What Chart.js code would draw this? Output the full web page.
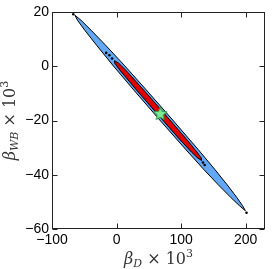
<!DOCTYPE html>
<html>
<head>
<meta charset="utf-8">
<script src="https://cdn.jsdelivr.net/npm/chart.js@4/dist/chart.umd.min.js"></script>
<style>
  html, body { margin: 0; padding: 0; background: #fff; }
  #wrap { width: 273px; height: 269px; }
</style>
</head>
<body>
<div id="wrap"><canvas id="chart"></canvas></div>
<script>
// tick values
const xTicks = [-100, 0, 100, 200];
const yTicks = [-60, -40, -20, 0, 20];

// outer (2 sigma) contour
const outerX = [-64.5, -55.0, -39.4, -17.0, 11.8, 46.3, 87.0, 127.0, 152.8, 171.4, 186.7, 195.3, 199.6,
                190.5, 177.5, 157.7, 135.7, 107.8, 66.9, 26.8, -5.9, -31.0, -49.2, -60.5];
const outerY = [18.8, 16.95, 13.27, 7.76, 0.40, -8.79, -19.82, -30.85, -38.2, -43.71, -48.49, -51.43, -53.27,
                -51.43, -48.49, -43.71, -38.2, -30.85, -19.82, -8.79, 0.40, 7.76, 13.27, 16.95];

// inner (1 sigma) contour
const innerX = [-2.97, 3.28, 14.26, 42.03, 75.9, 109.3, 124.4, 131.0, 131.6,
                125.5, 115.9, 98.6, 64.6, 31.0, 5.1, -2.8];
const innerY = [2.06, 1.14, -1.43, -8.79, -17.98, -27.17, -31.58, -33.79, -34.71,
                -33.79, -31.58, -27.17, -17.98, -8.79, -1.43, 1.14];

// best fit point
const bestX = [67.8];
const bestY = [-17.6];

// stray samples
const dotX = [-67.0, -16.1, -11.1, -6.9, 133.9, 136.5, 201.4];
const dotY = [19.15, 4.93, 4.08, 2.87, -35.5, -36.4, -54.0];

function pts(xs, ys, close) {
    const p = xs.map((x, i) => ({ x: x, y: ys[i] }));
    if (close) p.push({ x: xs[0], y: ys[0] });
    return p;
}

// filled star marker
function starImage(r) {
    const c = document.createElement('canvas');
    const s = Math.ceil(r * 2 + 4);
    c.width = s; c.height = s;
    const g = c.getContext('2d');
    g.beginPath();
    for (let i = 0; i < 10; i++) {
        const a = -Math.PI / 2 + i * Math.PI / 5;
        const rr = i % 2 === 0 ? r : r * 0.45;
        g.lineTo(s / 2 + rr * Math.cos(a), s / 2 + rr * Math.sin(a));
    }
    g.closePath();
    g.fillStyle = '#7ded93';
    g.fill();
    g.strokeStyle = '#2f9a45';
    g.lineWidth = 1;
    g.stroke();
    return c;
}

const serif = '"DejaVu Serif", serif';

function drawMath(ctx, parts) {
    let w = 0;
    parts.forEach(p => { ctx.font = p.f; p.w = ctx.measureText(p.t).width; w += p.w; });
    let x = -w / 2;
    parts.forEach(p => { ctx.font = p.f; ctx.fillText(p.t, x, p.dy); x += p.w; });
}

const framePlugin = {
    id: 'frame',
    afterDraw(chart) {
        const { ctx, chartArea: a, scales } = chart;
        const L = Math.round(a.left) + 0.5, R = Math.round(a.right) - 0.5;
        const T = Math.round(a.top) + 0.5, B = Math.round(a.bottom) - 0.5;
        ctx.save();
        ctx.strokeStyle = '#222';
        ctx.lineWidth = 1;
        ctx.strokeRect(L, T, R - L, B - T);
        ctx.beginPath();
        const tl = 5;
        xTicks.forEach(v => {
            const px = Math.round(scales.x.getPixelForValue(v)) + 0.5;
            ctx.moveTo(px, B); ctx.lineTo(px, B - tl);
            ctx.moveTo(px, T); ctx.lineTo(px, T + tl);
        });
        yTicks.forEach(v => {
            const py = Math.round(scales.y.getPixelForValue(v)) + 0.5;
            ctx.moveTo(L, py); ctx.lineTo(L + tl, py);
            ctx.moveTo(R, py); ctx.lineTo(R - tl, py);
        });
        ctx.stroke();

        // axis titles
        ctx.fillStyle = '#333';
        ctx.textBaseline = 'alphabetic';
        ctx.save();
        ctx.translate((a.left + a.right) / 2, 264);
        drawMath(ctx, [
            { t: 'β', f: 'italic 16px ' + serif, dy: 0 },
            { t: 'D', f: 'italic 11px ' + serif, dy: 3 },
            { t: ' × 10', f: '16px ' + serif, dy: 0 },
            { t: '3', f: '11px ' + serif, dy: -7 }
        ]);
        ctx.restore();
        ctx.save();
        ctx.translate(15, (a.top + a.bottom) / 2);
        ctx.rotate(-Math.PI / 2);
        drawMath(ctx, [
            { t: 'β', f: 'italic 16px ' + serif, dy: 0 },
            { t: 'WB', f: 'italic 11px ' + serif, dy: 3 },
            { t: ' × 10', f: '16px ' + serif, dy: 0 },
            { t: '3', f: '11px ' + serif, dy: -7 }
        ]);
        ctx.restore();
        ctx.restore();
    }
};

const tickFont = { family: '"Liberation Sans", Arial, sans-serif', size: 14 };
const fmt = v => (v < 0 ? '\u2212' + Math.abs(v) : '' + v);

new Chart(document.getElementById('chart'), {
    type: 'scatter',
    data: {
        datasets: [
            {
                data: pts(bestX, bestY),
                pointStyle: starImage(7),
                pointRadius: 7,
                order: 0
            },
            {
                data: pts(dotX, dotY),
                pointRadius: 1.3,
                pointBackgroundColor: '#000',
                pointBorderWidth: 0,
                order: 1
            },
            {
                data: pts(innerX, innerY, true),
                showLine: true,
                fill: 'shape',
                backgroundColor: '#e00000',
                borderColor: '#000',
                borderWidth: 1,
                pointRadius: 0,
                tension: 0,
                order: 2
            },
            {
                data: pts(outerX, outerY, true),
                showLine: true,
                fill: 'shape',
                backgroundColor: '#62a8f6',
                borderColor: '#000',
                borderWidth: 1,
                pointRadius: 0,
                tension: 0,
                order: 3
            }
        ]
    },
    options: {
        responsive: true,
        maintainAspectRatio: false,
        animation: false,
        layout: { padding: { top: 12, right: 4, left: 0, bottom: 0 } },
        plugins: { legend: { display: false }, tooltip: { enabled: false } },
        scales: {
            x: {
                type: 'linear',
                min: -100,
                max: 230,
                grid: { display: false, drawTicks: false },
                border: { display: false },
                afterBuildTicks: s => { s.ticks = xTicks.map(v => ({ value: v })); },
                afterFit: s => { s.height = 40; },
                ticks: { color: '#000', font: tickFont, padding: 3, maxRotation: 0, callback: fmt }
            },
            y: {
                type: 'linear',
                min: -60,
                max: 20,
                grid: { display: false, drawTicks: false },
                border: { display: false },
                afterBuildTicks: s => { s.ticks = yTicks.map(v => ({ value: v })); },
                afterFit: s => { s.width = 52; },
                ticks: { color: '#000', font: tickFont, padding: 3, callback: fmt }
            }
        }
    },
    plugins: [framePlugin]
});
</script>
</body>
</html>
